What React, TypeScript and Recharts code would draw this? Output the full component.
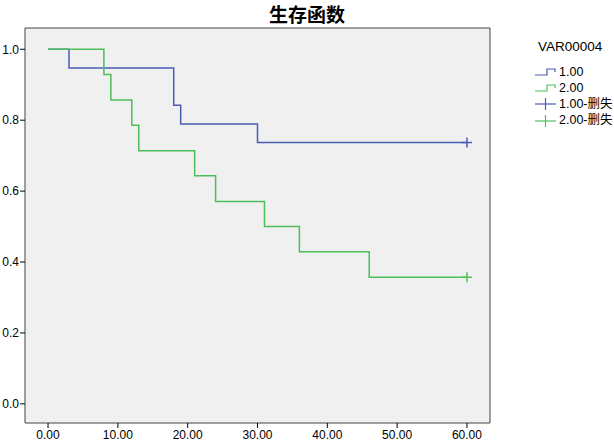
import React from "react";
import {
  ComposedChart,
  Line,
  Scatter,
  XAxis,
  YAxis,
  CartesianGrid,
  ReferenceArea,
} from "recharts";

// survival steps, group 1.00 (n=19)
const g1Time = [0, 3, 18, 19, 30, 60];
const g1Surv = [1.0, 0.947, 0.842, 0.789, 0.737, 0.737];
// group 2.00 (n=14)
const g2Time = [0, 8, 9, 12, 13, 21, 24, 31, 36, 46, 60];
const g2Surv = [1.0, 0.929, 0.857, 0.786, 0.714, 0.643, 0.571, 0.5, 0.429, 0.357, 0.357];

// censored observations
const g1CensorTime = [60];
const g1CensorSurv = [0.737];
const g2CensorTime = [60];
const g2CensorSurv = [0.357];

const xTicks = [0, 10, 20, 30, 40, 50, 60];
const yTicks = [0, 0.2, 0.4, 0.6, 0.8, 1.0];
const groupNames = ["1.00", "2.00", "1.00-删失", "2.00-删失"];

const BLUE = "#4a5db2";
const GREEN = "#4cbf5a";
const X_DOMAIN: [number, number] = [-3.3, 63.3];
const Y_DOMAIN: [number, number] = [-0.054, 1.06];

const toRows = (t: number[], s: number[]) => t.map((x, i) => ({ t: x, s: s[i] }));

const g1 = toRows(g1Time, g1Surv);
const g2 = toRows(g2Time, g2Surv);
const g1c = toRows(g1CensorTime, g1CensorSurv);
const g2c = toRows(g2CensorTime, g2CensorSurv);

const Plus = (color: string) => (props: any) => {
  const { cx, cy } = props;
  return (
    <g stroke={color} strokeWidth={1.5}>
      <line x1={cx - 5} y1={cy} x2={cx + 5} y2={cy} />
      <line x1={cx} y1={cy - 5} x2={cx} y2={cy + 5} />
    </g>
  );
};

const StepIcon = ({ color }: { color: string }) => (
  <svg width={23} height={10} style={{ marginRight: 2, flex: "none" }}>
    <polyline points="1,8 13,8 13,2 21,2 21,5" fill="none" stroke={color} strokeWidth={1.2} />
  </svg>
);

const PlusIcon = ({ color }: { color: string }) => (
  <svg width={23} height={12} style={{ marginRight: 2, flex: "none" }}>
    <g stroke={color} strokeWidth={1.2}>
      <line x1={1} y1={6} x2={22} y2={6} />
      <line x1={11.5} y1={0} x2={11.5} y2={12} />
    </g>
  </svg>
);

const fontFamily = "'Liberation Sans', Arial, 'Noto Sans CJK SC', sans-serif";

export default function App() {
  return (
    <div style={{ position: "absolute", left: 0, top: 0, width: 614, height: 447, background: "#fff", fontFamily, overflow: "hidden" }}>
      <div
        style={{
          position: "absolute",
          left: 0,
          top: 1,
          width: 614,
          textAlign: "center",
          fontFamily: "'Noto Sans CJK SC', sans-serif",
          fontWeight: 700,
          fontSize: 19,
          lineHeight: "26px",
          color: "#000",
        }}
      >
        生存函数
      </div>
      <ComposedChart width={614} height={447} margin={{ top: 28, right: 124, bottom: 0, left: 0 }}>
        <CartesianGrid fill="#f0f0f0" horizontal={false} vertical={false} />
        <XAxis
          type="number"
          dataKey="t"
          domain={X_DOMAIN}
          allowDataOverflow
          ticks={xTicks}
          tickFormatter={(v: number) => v.toFixed(2)}
          height={24}
          axisLine={false}
          tickLine={{ stroke: "#000" }}
          tickSize={5}
          tick={{ fill: "#000", fontSize: 12, fontFamily }}
        />
        <YAxis
          type="number"
          dataKey="s"
          domain={Y_DOMAIN}
          allowDataOverflow
          ticks={yTicks}
          tickFormatter={(v: number) => v.toFixed(1)}
          width={25}
          axisLine={false}
          tickLine={{ stroke: "#000" }}
          tickSize={5}
          tickMargin={1}
          tick={{ fill: "#000", fontSize: 12, fontFamily }}
        />
        <ReferenceArea
          x1={X_DOMAIN[0]}
          x2={X_DOMAIN[1]}
          y1={Y_DOMAIN[0]}
          y2={Y_DOMAIN[1]}
          fill="none"
          stroke="#444"
          strokeWidth={1}
          ifOverflow="visible"
        />
        <Line data={g1} dataKey="s" type="stepAfter" stroke={BLUE} strokeWidth={1.5} dot={false} isAnimationActive={false} />
        <Line data={g2} dataKey="s" type="stepAfter" stroke={GREEN} strokeWidth={1.5} dot={false} isAnimationActive={false} />
        <Scatter data={g1c} dataKey="s" shape={Plus(BLUE)} isAnimationActive={false} />
        <Scatter data={g2c} dataKey="s" shape={Plus(GREEN)} isAnimationActive={false} />
      </ComposedChart>
      <div style={{ position: "absolute", left: 538, top: 38, fontSize: 13.5, lineHeight: "17px", color: "#000", whiteSpace: "nowrap" }}>
        VAR00004
      </div>
      <div
        style={{
          position: "absolute",
          left: 534,
          top: 63.5,
          width: 80,
          fontSize: 12.5,
          color: "#000",
          lineHeight: "16.3px",
          whiteSpace: "nowrap",
        }}
      >
        {[BLUE, GREEN].map((c, i) => (
          <div key={i} style={{ display: "flex", alignItems: "center", height: 16.3 }}>
            <StepIcon color={c} />
            <span>{groupNames[i]}</span>
          </div>
        ))}
        {[BLUE, GREEN].map((c, i) => (
          <div key={i + 2} style={{ display: "flex", alignItems: "center", height: 16.3 }}>
            <PlusIcon color={c} />
            <span>{groupNames[i + 2]}</span>
          </div>
        ))}
      </div>
    </div>
  );
}
